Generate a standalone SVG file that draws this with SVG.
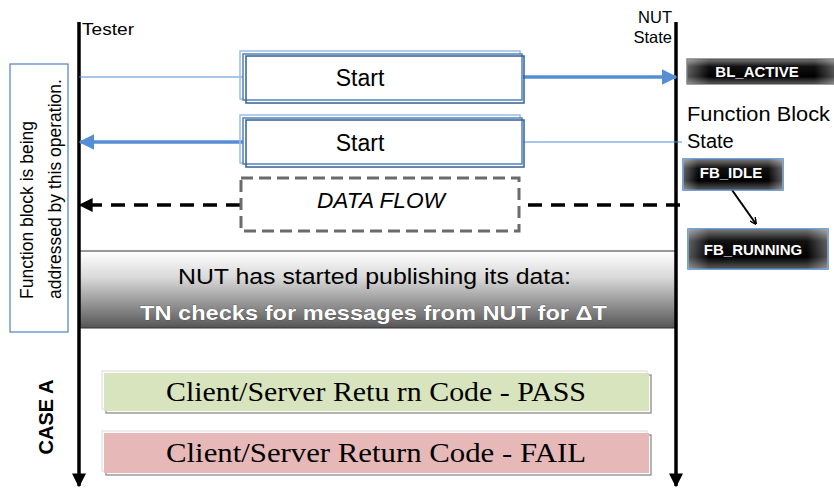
<svg xmlns="http://www.w3.org/2000/svg" width="834" height="492" viewBox="0 0 834 492">
<defs>
<style>
.lbl{font-family:"Liberation Sans",Arial,sans-serif;}
.serif{font-family:"Liberation Serif","Times New Roman",serif;}
.life{stroke:#000;stroke-width:3.5;fill:none}
.st{fill:#fff;stroke:#4f81bd;stroke-width:1.5}
.stl{fill:none;stroke:#9dbbe3;stroke-width:1.5}
.std{fill:none;stroke:#365f91;stroke-width:1.5}
.state{stroke:#4f81bd;stroke-width:1.5}
.stxt{fill:#fff;font-weight:bold;font-size:15px;text-anchor:middle}
</style>
<linearGradient id="band" x1="0" y1="0" x2="0" y2="1">
<stop offset="0" stop-color="#ffffff"/>
<stop offset="0.35" stop-color="#d8d8d8"/>
<stop offset="1" stop-color="#555555"/>
</linearGradient>
<linearGradient id="blk" x1="0" y1="0" x2="0" y2="1">
<stop offset="0" stop-color="#7a7a7a"/>
<stop offset="0.3" stop-color="#111"/>
<stop offset="0.7" stop-color="#000"/>
<stop offset="1" stop-color="#5a5a5a"/>
</linearGradient>
<linearGradient id="blkh" x1="0" y1="0" x2="1" y2="0">
<stop offset="0" stop-color="#fff" stop-opacity="0.35"/>
<stop offset="0.15" stop-color="#fff" stop-opacity="0"/>
<stop offset="0.85" stop-color="#fff" stop-opacity="0"/>
<stop offset="1" stop-color="#fff" stop-opacity="0.35"/>
</linearGradient>
<marker id="ab" viewBox="0 0 10 10" refX="9" refY="5" markerWidth="4.5" markerHeight="4.5" orient="auto" markerUnits="strokeWidth">
<path d="M0,0 L10,5 L0,10 z" fill="#558ed5"/>
</marker>
<marker id="al" viewBox="0 0 10 10" refX="9" refY="5" markerWidth="3.5" markerHeight="3.5" orient="auto" markerUnits="strokeWidth">
<path d="M0,0 L10,5 L0,10" fill="none" stroke="#000" stroke-width="2"/>
</marker>
<marker id="ad" viewBox="0 0 10 10" refX="9" refY="5" markerWidth="4" markerHeight="4" orient="auto" markerUnits="strokeWidth">
<path d="M0,0 L10,5 L0,10 z" fill="#000"/>
</marker>
</defs>

<rect width="834" height="492" fill="#fff"/>

<!-- band -->
<g id="band-node">
<rect x="79" y="251" width="597" height="77" fill="url(#band)" stroke="#333" stroke-width="1"/>
<text class="lbl" x="178" y="284" font-size="22" textLength="393" lengthAdjust="spacingAndGlyphs" fill="#000">NUT has started  publishing its data:</text>
<text class="lbl" x="140" y="320" font-size="21" textLength="467" lengthAdjust="spacingAndGlyphs" fill="#fff" font-weight="bold" style="paint-order:stroke" stroke="#444" stroke-width="0.6">TN checks for messages from NUT for ΔT</text>
</g>

<!-- lifelines -->
<g id="lifelines">
<line class="life" x1="79" y1="22" x2="79" y2="486" marker-end="url(#ad)"/>
<line class="life" x1="676" y1="22" x2="676" y2="486" marker-end="url(#ad)"/>
<text class="lbl" x="82" y="35" font-size="17" textLength="52" lengthAdjust="spacingAndGlyphs">Tester</text>
<text class="lbl" x="672" y="23" font-size="16.5" text-anchor="end">NUT</text>
<text class="lbl" x="672" y="43" font-size="16.5" text-anchor="end">State</text>
</g>

<!-- connectors -->
<g id="connectors">
<line x1="79" y1="77" x2="243" y2="77" stroke="#558ed5" stroke-width="1.2"/>
<line x1="523" y1="77" x2="676" y2="77" stroke="#558ed5" stroke-width="3.5" marker-end="url(#ab)"/>
<line x1="245" y1="142" x2="80" y2="142" stroke="#558ed5" stroke-width="3.5" marker-end="url(#ab)"/>
<line x1="523" y1="142" x2="682" y2="142" stroke="#558ed5" stroke-width="1.2"/>
<line x1="240" y1="205" x2="80" y2="205" stroke="#000" stroke-width="3.5" stroke-dasharray="14,9" marker-end="url(#ad)"/>
<line x1="528" y1="205" x2="680" y2="205" stroke="#000" stroke-width="3.5" stroke-dasharray="14,9"/>
<line x1="732" y1="190" x2="756" y2="224" stroke="#000" stroke-width="2" marker-end="url(#al)"/>
</g>

<!-- note box -->
<g id="note">
<rect x="10" y="64" width="58" height="268" fill="#fff" stroke="#4f81bd" stroke-width="1.2"/>
<text class="lbl" font-size="17.5" transform="translate(33,299) rotate(-90)">Function block is being</text>
<text class="lbl" font-size="17.5" transform="translate(61,299) rotate(-90)">addressed by this operation.</text>
</g>

<!-- start 1 -->
<g id="start1">
<rect class="stl" x="240" y="51" width="280" height="48"/>
<rect class="st" x="243" y="54" width="279" height="46"/>
<rect class="std" x="246" y="56" width="278" height="47"/>
<text class="lbl" x="360" y="86" font-size="23" text-anchor="middle">Start</text>
</g>

<!-- start 2 -->
<g id="start2">
<rect class="stl" x="240" y="115" width="280" height="48"/>
<rect class="st" x="243" y="118" width="279" height="46"/>
<rect class="std" x="246" y="120" width="278" height="47"/>
<text class="lbl" x="360" y="151" font-size="23" text-anchor="middle">Start</text>
</g>

<!-- data flow -->
<g id="dataflow">
<rect x="241" y="178" width="278" height="53" fill="#fff" stroke="#6b6b6b" stroke-width="3" stroke-dasharray="12,6"/>
<text class="lbl" x="381" y="208" font-size="22" font-style="italic" text-anchor="middle" textLength="128" lengthAdjust="spacingAndGlyphs">DATA FLOW</text>
</g>

<!-- states -->
<g id="bl_active">
<rect x="687" y="59" width="150" height="25" fill="url(#blk)" stroke="#444" stroke-width="1"/>
<rect x="687" y="59" width="150" height="25" fill="url(#blkh)"/>
<text class="lbl stxt" x="757" y="77">BL_ACTIVE</text>
</g>
<g id="fb_label">
<text class="lbl" x="687" y="121" font-size="20" textLength="143" lengthAdjust="spacingAndGlyphs">Function Block</text>
<text class="lbl" x="687" y="148" font-size="20">State</text>
</g>
<g id="fb_idle">
<rect class="state" x="683" y="159" width="100" height="31" fill="url(#blk)"/>
<rect x="683" y="159" width="100" height="31" fill="url(#blkh)"/>
<text class="lbl stxt" x="731" y="178" font-size="15">FB_IDLE</text>
</g>
<g id="fb_running">
<rect class="state" x="688" y="229" width="140" height="40" fill="url(#blk)"/>
<rect x="688" y="229" width="140" height="40" fill="url(#blkh)"/>
<text class="lbl stxt" x="753" y="255" font-size="16">FB_RUNNING</text>
</g>

<!-- case A -->
<g id="casea">
<text class="lbl" font-size="20" font-weight="bold" text-anchor="middle" transform="translate(53,417) rotate(-90)">CASE A</text>
</g>

<g id="pass">
<rect x="102" y="371" width="545" height="38" fill="none" stroke="#e6e6e6" stroke-width="1.5"/>
<rect x="106" y="375" width="545" height="38" fill="none" stroke="#9a9a9a" stroke-width="1.5"/>
<rect x="104" y="373" width="545" height="38" fill="#d7e4bd"/>
<text class="serif" x="166" y="401" font-size="28" textLength="420" lengthAdjust="spacingAndGlyphs">Client/Server Retu rn Code - PASS</text>
</g>
<g id="fail">
<rect x="102" y="431" width="545" height="40" fill="none" stroke="#e6e6e6" stroke-width="1.5"/>
<rect x="106" y="435" width="545" height="40" fill="none" stroke="#9a9a9a" stroke-width="1.5"/>
<rect x="104" y="433" width="545" height="40" fill="#e6b9b8"/>
<text class="serif" x="166" y="462" font-size="28" textLength="420" lengthAdjust="spacingAndGlyphs">Client/Server Return Code - FAIL</text>
</g>
</svg>
